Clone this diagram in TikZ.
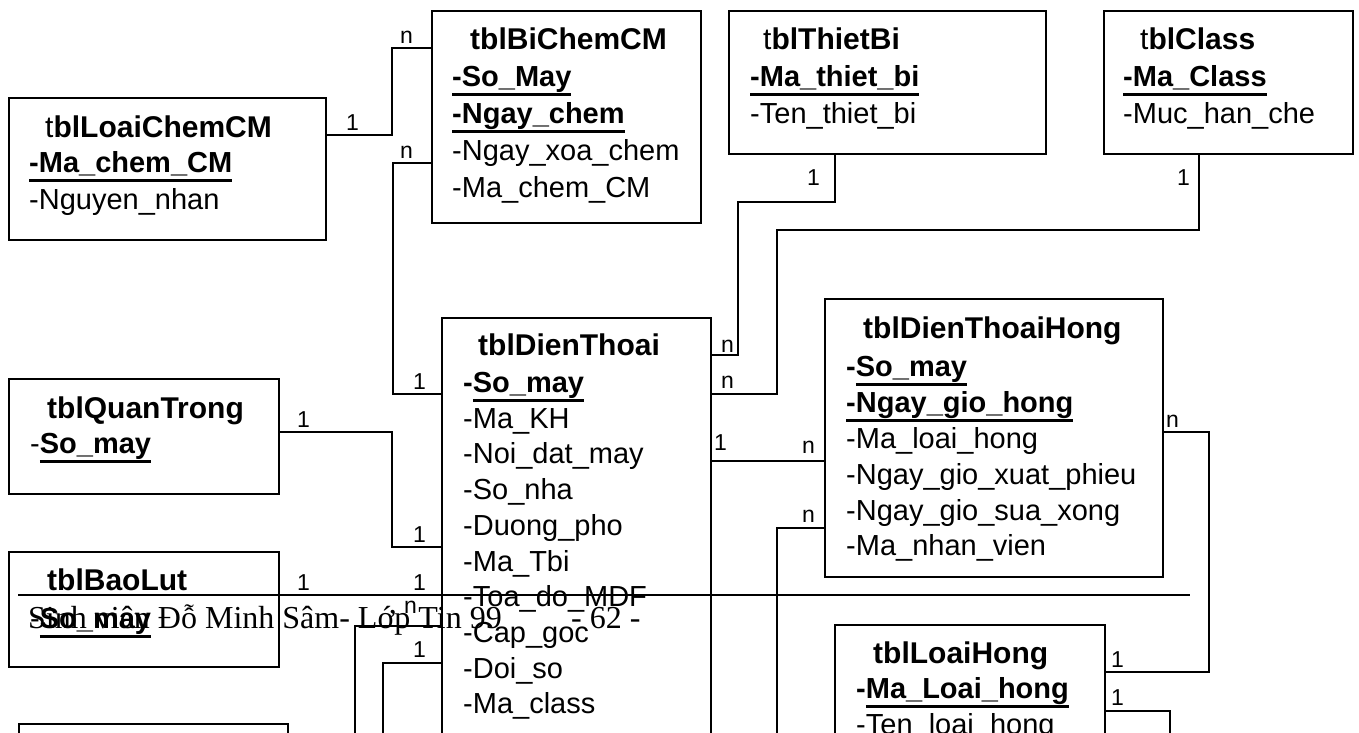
\documentclass[tikz,border=0pt]{standalone}
\usepackage{fontspec}
\setmainfont{Liberation Sans}
\newfontfamily\footfont{Liberation Serif}
\newcommand{\ulx}[1]{\sbox0{#1}\rlap{\rule[-10pt]{\wd0}{2.6pt}}\usebox0}
\begin{document}
\begin{tikzpicture}[x=1pt,y=-1pt,
  box/.style={draw,line width=1.8pt,inner sep=0pt,anchor=north west},
  txt/.style={inner sep=0pt,anchor=base west,font=\fontsize{29}{35}\selectfont},
  ttl/.style={inner sep=0pt,anchor=base west,font=\fontsize{30}{36}\selectfont},
  lbl/.style={inner sep=0pt,anchor=base west,font=\fontsize{23}{27}\selectfont},
  con/.style={line width=1.5pt},
  foot/.style={inner sep=0pt,anchor=base west,font=\footfont\fontsize{32}{38}\selectfont}]
\useasboundingbox (0,0) rectangle (1359,732);
\clip (0,0) rectangle (1359,732);

% boxes
\node[box,minimum width=317pt,minimum height=142pt] (LCM) at (8,97) {};
\node[box,minimum width=269pt,minimum height=212pt] (BCM) at (431,10) {};
\node[box,minimum width=317pt,minimum height=143pt] (TB) at (728,10) {};
\node[box,minimum width=249pt,minimum height=143pt] (CL) at (1103,10) {};
\node[box,minimum width=270pt,minimum height=115pt] (QT) at (8,378) {};
\node[box,minimum width=270pt,minimum height=115pt] (BL) at (8,551) {};
\node[box,minimum width=269pt,minimum height=100pt] (BX) at (18,723) {};
\node[box,minimum width=269pt,minimum height=500pt] (DT) at (441,317) {};
\node[box,minimum width=338pt,minimum height=278pt] (DTH) at (824,298) {};
\node[box,minimum width=270pt,minimum height=200pt] (LH) at (834,624) {};

% texts tblLoaiChemCM
\node[ttl] (lcm0) at (45,137) {t\textbf{blLoaiChemCM}};
\node[txt] (lcm1) at (29,172) {\textbf{\ulx{-Ma\_chem\_CM}}};
\node[txt] (lcm2) at (29,209) {-Nguyen\_nhan};
% tblBiChemCM
\node[ttl] (bcm0) at (470,49) {\textbf{tblBiChemCM}};
\node[txt] (bcm1) at (452,86) {\textbf{\ulx{-So\_May}}};
\node[txt] (bcm2) at (452,123) {\textbf{\ulx{-Ngay\_chem}}};
\node[txt] (bcm3) at (452,160) {-Ngay\_xoa\_chem};
\node[txt] (bcm4) at (452,197) {-Ma\_chem\_CM};
% tblThietBi
\node[ttl] (tb0) at (763,49) {t\textbf{blThietBi}};
\node[txt] (tb1) at (750,86) {\textbf{\ulx{-Ma\_thiet\_bi}}};
\node[txt] (tb2) at (750,123) {-Ten\_thiet\_bi};
% tblClass
\node[ttl] (cl0) at (1140,49) {t\textbf{blClass}};
\node[txt] (cl1) at (1123,86) {\textbf{\ulx{-Ma\_Class}}};
\node[txt] (cl2) at (1123,123) {-Muc\_han\_che};
% tblQuanTrong
\node[ttl] (qt0) at (47,418) {\textbf{tblQuanTrong}};
\node[txt] (qt1) at (30,453) {-\textbf{\ulx{So\_may}}};
% tblBaoLut
\node[ttl] (bl0) at (47,590) {\textbf{tblBaoLut}};
\node[txt] (bl1) at (30,628) {-\textbf{\ulx{So\_may}}};
% tblDienThoai
\node[ttl] (dt0) at (478,355) {\textbf{tblDienThoai}};
\node[txt] (dt1) at (463,392) {\textbf{-\ulx{So\_may}}};
\node[txt] (dt2) at (463,428) {-Ma\_KH};
\node[txt] (dt3) at (463,463) {-Noi\_dat\_may};
\node[txt] (dt4) at (463,499) {-So\_nha};
\node[txt] (dt5) at (463,535) {-Duong\_pho};
\node[txt] (dt6) at (463,571) {-Ma\_Tbi};
\node[txt] (dt7) at (463,606) {-Toa\_do\_MDF};
\node[txt] (dt8) at (463,642) {-Cap\_goc};
\node[txt] (dt9) at (463,678) {-Doi\_so};
\node[txt] (dt10) at (463,713) {-Ma\_class};
% tblDienThoaiHong
\node[ttl] (dth0) at (863,338) {\textbf{tblDienThoaiHong}};
\node[txt] (dth1) at (846,376) {\textbf{-\ulx{So\_may}}};
\node[txt] (dth2) at (846,412) {\textbf{\ulx{-Ngay\_gio\_hong}}};
\node[txt] (dth3) at (846,448) {-Ma\_loai\_hong};
\node[txt] (dth4) at (846,484) {-Ngay\_gio\_xuat\_phieu};
\node[txt] (dth5) at (846,520) {-Ngay\_gio\_sua\_xong};
\node[txt] (dth6) at (846,555) {-Ma\_nhan\_vien};
% tblLoaiHong
\node[ttl] (lh0) at (873,663) {\textbf{tblLoaiHong}};
\node[txt] (lh1) at (856,698) {\textbf{-\ulx{Ma\_Loai\_hong}}};
\node[txt] (lh2) at (856,734) {-Ten\_loai\_hong};

% connectors
\draw[con] (LCM.east |- 0,135) -- (392,135) -- (392,48) -- (BCM.west |- 0,48);
\draw[con] (BCM.west |- 0,163) -- (393,163) -- (393,394) -- (DT.west |- 0,394);
\draw[con] (QT.east |- 0,432) -- (392,432) -- (392,547) -- (DT.west |- 0,547);
\draw[con] (BL.east |- 0,595) -- (DT.west |- 0,595);
\coordinate (e1) at (355,760);
\coordinate (f1) at (383,760);
\draw[con] (DT.west |- 0,626) -- (355,626) -- (e1);
\draw[con] (DT.west |- 0,663) -- (383,663) -- (f1);
\draw[con] (TB.south -| 835,0) -- (835,202) -- (738,202) -- (738,355) -- (DT.east |- 0,355);
\draw[con] (CL.south -| 1199,0) -- (1199,230) -- (777,230) -- (777,394) -- (DT.east |- 0,394);
\draw[con] (DT.east |- 0,461) -- (DTH.west |- 0,461);
\coordinate (j1) at (777,760);
\draw[con] (DTH.west |- 0,528) -- (777,528) -- (j1);
\draw[con] (DTH.east |- 0,432) -- (1209,432) -- (1209,672) -- (LH.east |- 0,672);
\coordinate (l1) at (1170,760);
\draw[con] (LH.east |- 0,711) -- (1170,711) -- (l1);

% cardinality labels
\node[lbl] (m1) at (346,130) {1};
\node[lbl] (m2) at (400,43) {n};
\node[lbl] (m3) at (400,158) {n};
\node[lbl] (m4) at (413,389) {1};
\node[lbl] (m5) at (297,427) {1};
\node[lbl] (m6) at (413,542) {1};
\node[lbl] (m7) at (297,590) {1};
\node[lbl] (m8) at (413,590) {1};
\node[lbl] (m9) at (404,613) {n};
\node[lbl] (m10) at (413,657) {1};
\node[lbl] (m11) at (807,185) {1};
\node[lbl] (m12) at (1177,185) {1};
\node[lbl] (m13) at (721,352) {n};
\node[lbl] (m14) at (721,388) {n};
\node[lbl] (m15) at (714,450) {1};
\node[lbl] (m16) at (802,453) {n};
\node[lbl] (m17) at (802,522) {n};
\node[lbl] (m18) at (1166,427) {n};
\node[lbl] (m19) at (1111,667) {1};
\node[lbl] (m20) at (1111,705) {1};

% page footer
\draw[line width=2pt] (18,595) -- (1190,595);
\node[foot] (ft1) at (28,628) {Sinh viên Đỗ Minh Sâm- Lớp Tin 99};
\node[foot] (ft2) at (571,628) {- 62 -};
\end{tikzpicture}
\end{document}
